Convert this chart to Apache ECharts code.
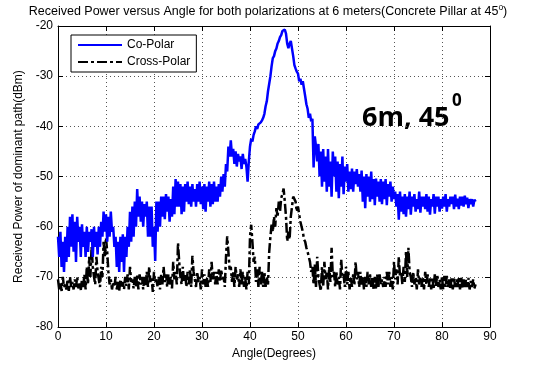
<!DOCTYPE html>
<html>
<head>
<meta charset="utf-8">
<script src="https://cdn.jsdelivr.net/npm/echarts@6/dist/echarts.min.js"></script>
<style>
  html, body { margin: 0; padding: 0; background: #fff; }
  #chart { width: 533px; height: 365px; }
</style>
</head>
<body>
<div id="chart"></div>
<script>
// angle grid: 0.25 degree steps from 0 to 87 (4 values per degree per row)
const angleStep = 0.25;

// Co-Polar received power (dBm)
const coPolar = [
  -62, -66, -61, -68,       // 0
  -63, -69, -62, -67,
  -60, -66, -58, -64,
  -57.5, -65, -59, -67,
  -58, -63, -60, -66,
  -59.5, -64, -61, -66,     // 5
  -60, -65, -61, -63,
  -60.5, -66, -60, -64,
  -61, -65.5, -60, -64,
  -59, -62, -57, -61,
  -57.5, -63, -58, -62,     // 10
  -57, -61, -60, -64,
  -62, -68, -63, -69,
  -62, -67, -61.5, -69,
  -62, -66, -60, -64,
  -57, -63, -56, -62,       // 15
  -55, -60, -52.5, -58,
  -54, -59, -55, -60,
  -55.5, -58, -55, -62,
  -56, -62, -56, -64,
  -60, -66.8, -55, -61,     // 20
  -55, -60, -54, -58,
  -54, -58.5, -53.5, -57,
  -54, -59, -54.5, -58,
  -52, -57.5, -50.5, -56,
  -51, -56, -51.5, -57.5,   // 25
  -52, -57, -51.5, -55,
  -51, -55.5, -52, -56,
  -51.5, -55, -52.5, -56,
  -51.5, -55, -51, -55.5,
  -52, -56.5, -51.5, -57,   // 30
  -52, -55, -51, -56,
  -51.5, -55.5, -51, -55,
  -52, -55, -51.5, -54,
  -50, -53, -49.5, -52,
  -47.5, -49, -44, -46,     // 35
  -42.8, -46, -44.5, -47.5,
  -45, -48, -45.5, -47,
  -46, -48.5, -45.5, -47.5,
  -46.5, -48, -51, -47,
  -44, -42.5, -43, -41.7,   // 40
  -41, -40, -40.5, -39.6,
  -39.8, -39.2, -38.8, -38.3,
  -37.5, -36, -35, -33,
  -31.5, -30, -28, -26.4,
  -26, -25, -24.5, -23.5,   // 45
  -23, -22.2, -21.8, -21,
  -20.8, -20.7, -21.5, -23.5,
  -24.4, -23.5, -23, -24.5,
  -26, -27.8, -28.5, -29.1,
  -29.5, -31, -30.5, -31.7, // 50
  -31, -32.5, -34, -35.6,
  -36.5, -38.3, -37.5, -39,
  -38.5, -48.2, -42, -44,
  -47, -43.5, -50, -45,
  -52, -44.5, -51, -46,     // 55
  -53, -44.5, -52, -47,
  -54, -45, -50, -46,
  -53, -47, -54.3, -47.5,
  -52, -46, -53.5, -48,
  -51, -47.5, -53, -49,     // 60
  -52.5, -48.4, -53, -49,
  -51.5, -48.5, -52, -49.5,
  -53, -48.8, -55, -50,
  -56.3, -49.5, -54, -50,
  -55, -49, -54.5, -50.5,   // 65
  -55.7, -50.4, -54, -51,
  -55, -50.5, -55.5, -51,
  -54.5, -50.5, -55.7, -51.5,
  -54, -51, -55, -52,
  -54.5, -53, -56, -53.5,   // 70
  -58.6, -53, -57, -54,
  -57.5, -53.5, -58, -54,
  -56.5, -53, -57.6, -54,
  -56, -53.5, -57, -54.5,
  -56.5, -53, -57.2, -54,   // 75
  -56, -54, -56.5, -53.5,
  -57, -54, -57.6, -54.5,
  -56, -53.5, -57.4, -54,
  -56, -54, -57, -54.5,
  -56.4, -54, -56, -53.5,   // 80
  -57, -54.5, -56, -54,
  -55.5, -54, -56.5, -53.6,
  -56, -54.4, -56.5, -54,
  -55.8, -54, -56, -53.8,
  -55.5, -54.2, -56.3, -54.5, // 85
  -55.5, -54.5, -56, -54.6,
  -55
];

// Cross-Polar received power (dBm)
const crossPolar = [
  -70.5, -72.5, -71, -72.8, // 0
  -70, -72, -71.5, -72.5,
  -70.5, -72.8, -70, -72,
  -71, -72.5, -70.5, -72,
  -70, -72.3, -71, -72.6,
  -70.5, -72, -69.5, -72.5, // 5
  -68, -71.5, -66, -70,
  -64, -68, -70, -71.5,
  -66, -69, -70.5, -72,
  -68, -70, -63, -66,
  -62.2, -65, -69, -71.5,   // 10
  -70.5, -72.5, -71, -72,
  -70, -72.5, -71, -72.8,
  -70.5, -72, -71, -72.5,
  -70, -71.8, -69.5, -72.5,
  -68, -71, -70.5, -72.3,   // 15
  -70, -72, -69.5, -72.5,
  -69.5, -71.5, -70, -72.5,
  -70, -71.8, -69, -72,
  -68, -71, -70, -73,
  -69, -71, -70.5, -72,     // 20
  -70, -72.5, -69.5, -71.5,
  -68, -71, -69.5, -72,
  -69.5, -71.5, -70, -72.3,
  -67, -70.5, -69, -71.5,
  -63.2, -67, -70, -71.5,   // 25
  -68, -71, -69.5, -72,
  -69, -71.5, -68.5, -72,
  -65.8, -69, -70.5, -72,
  -69, -71, -70, -72.5,
  -68.5, -71.5, -69.5, -72, // 30
  -70, -72, -68.5, -71,
  -67, -70.5, -69, -71.5,
  -69, -71.5, -68.5, -71,
  -68.5, -70.5, -70, -72,
  -66, -61.9, -65, -68.5,   // 35
  -68, -71, -69, -72,
  -68, -70.5, -69.5, -72,
  -68.5, -71.5, -69, -72,
  -70, -72.5, -69, -71.5,
  -62, -59.6, -63, -67,     // 40
  -66, -71, -68.5, -72,
  -68, -71.5, -69, -72,
  -69, -72, -70, -71.5,
  -65, -62, -59.6, -61,
  -58, -60, -56.3, -58,     // 45
  -55, -57, -54.3, -53.5,
  -52.4, -55, -58, -62.9,
  -61, -62.5, -58, -56,
  -54, -53.7, -55, -57,
  -56, -57.6, -59, -60,     // 50
  -61, -62.5, -63, -64.2,
  -65, -66, -67, -69,
  -68, -71.5, -67.5, -72,
  -66, -70, -71.5, -72.8,
  -68, -72, -67, -70.5,     // 55
  -69, -72.5, -68, -71,
  -64.2, -70, -69, -72,
  -69, -71.5, -70, -72.5,
  -66.5, -70, -69.5, -72,
  -68, -71.5, -69, -72.5,   // 60
  -70, -72, -69.5, -71.5,
  -67, -70.5, -69, -72,
  -69, -71.5, -70, -72.5,
  -70, -72, -69, -71.5,
  -69.5, -72, -70, -72.5,   // 65
  -70, -72.5, -69.5, -72,
  -69.5, -71.5, -70.5, -72,
  -70, -72, -69, -71.5,
  -69, -72, -70, -72.5,
  -67, -70.5, -68.5, -71.5, // 70
  -66, -70, -69, -71.5,
  -68, -71, -65, -70,
  -64.2, -69, -70, -72,
  -69, -71.5, -70, -72.5,
  -68.5, -71.5, -70, -72,   // 75
  -70, -72.5, -69, -71.5,
  -69.5, -72, -70, -72.5,
  -70, -72.5, -69.5, -71.8,
  -69.5, -72, -70.5, -72.5,
  -70, -72.5, -69.8, -72,   // 80
  -69.8, -72, -70.5, -72.5,
  -70, -72.5, -70.3, -72,
  -70.5, -72, -70, -72.5,
  -70, -72.3, -70.5, -72,
  -70.5, -72, -70.2, -72.5, // 85
  -70.8, -72, -70.5, -72.3,
  -71.5
];

const xTicks = { min: 0, max: 90, interval: 10 };
const yTicks = { min: -80, max: -20, interval: 10 };

const pairs = vals => vals.map((v, i) => [i * angleStep, v]);

const chart = echarts.init(document.getElementById('chart'));
const font = '"Liberation Sans", Arial, sans-serif';

const gridLine = {
  show: true,
  lineStyle: { color: '#555', type: [1, 3], width: 1 },
};

chart.setOption({
  animation: false,
  textStyle: { fontFamily: font },
  grid: { left: 58, right: 43, top: 26, bottom: 35 },
  legend: {
    orient: 'vertical',
    left: 71,
    top: 35,
    itemWidth: 44,
    itemHeight: 10,
    itemGap: 5,
    padding: [4, 6, 4, 6],
    borderColor: '#000',
    borderWidth: 1,
    backgroundColor: '#fff',
    itemStyle: { opacity: 0 },
    textStyle: { fontSize: 12, color: '#000', fontFamily: font },
    data: ['Co-Polar', 'Cross-Polar'],
  },
  xAxis: [
    {
      type: 'value',
      ...xTicks,
      name: 'Angle(Degrees)',
      nameLocation: 'middle',
      nameGap: 18,
      nameTextStyle: { fontSize: 12, color: '#000' },
      axisLine: { show: true, lineStyle: { color: '#000' } },
      axisTick: { show: true, inside: true, length: 5, lineStyle: { color: '#000' } },
      axisLabel: { fontSize: 12, color: '#000', margin: 4 },
      splitLine: gridLine,
    },
    {
      type: 'value',
      position: 'top',
      ...xTicks,
      axisLine: { show: true, onZero: false, lineStyle: { color: '#000' } },
      axisTick: { show: true, inside: true, length: 5, lineStyle: { color: '#000' } },
      axisLabel: { show: false },
      splitLine: { show: false },
    },
  ],
  yAxis: [
    {
      type: 'value',
      ...yTicks,
      name: 'Received Power of dominant path(dBm)',
      nameLocation: 'middle',
      nameGap: 30,
      nameTextStyle: { fontSize: 12, color: '#000' },
      axisLine: { show: true, lineStyle: { color: '#000' } },
      axisTick: { show: true, inside: true, length: 5, lineStyle: { color: '#000' } },
      axisLabel: { fontSize: 12, color: '#000', margin: 5 },
      splitLine: gridLine,
    },
    {
      type: 'value',
      position: 'right',
      ...yTicks,
      axisLine: { show: true, onZero: false, lineStyle: { color: '#000' } },
      axisTick: { show: true, inside: true, length: 5, lineStyle: { color: '#000' } },
      axisLabel: { show: false },
      splitLine: { show: false },
    },
  ],
  series: [
    {
      name: 'Co-Polar',
      type: 'line',
      data: pairs(coPolar),
      showSymbol: false,
      symbol: 'none',
      color: '#0000ff',
      lineStyle: { color: '#0000ff', width: 2.5 },
      z: 3,
    },
    {
      name: 'Cross-Polar',
      type: 'line',
      data: pairs(crossPolar),
      showSymbol: false,
      symbol: 'none',
      color: '#000',
      lineStyle: { color: '#000', width: 2.5, type: [10, 3, 3, 3] },
      z: 2,
    },
  ],
  graphic: [
    {
      type: 'text',
      style: {
        x: 268,
        y: 11,
        text: '{t|Received Power versus Angle for both polarizations at 6 meters(Concrete Pillar at 45}{s|o}{t|)}',
        align: 'center',
        verticalAlign: 'middle',
        rich: {
          t: { fontSize: 12.5, fontFamily: font, fill: '#000', lineHeight: 15, verticalAlign: 'bottom' },
          s: { fontSize: 8.5, fontFamily: font, fill: '#000', lineHeight: 15, verticalAlign: 'top' },
        },
      },
    },
    {
      type: 'text',
      style: {
        x: 362,
        y: 118,
        text: '6m, 45',
        font: 'bold 27px "Open Sans", "DejaVu Sans", sans-serif',
        fill: '#000',
        verticalAlign: 'middle',
      },
    },
    {
      type: 'text',
      style: {
        x: 452,
        y: 101,
        text: '0',
        font: 'bold 17px "Open Sans", "DejaVu Sans", sans-serif',
        fill: '#000',
        verticalAlign: 'middle',
      },
    },
  ],
});
</script>
</body>
</html>
